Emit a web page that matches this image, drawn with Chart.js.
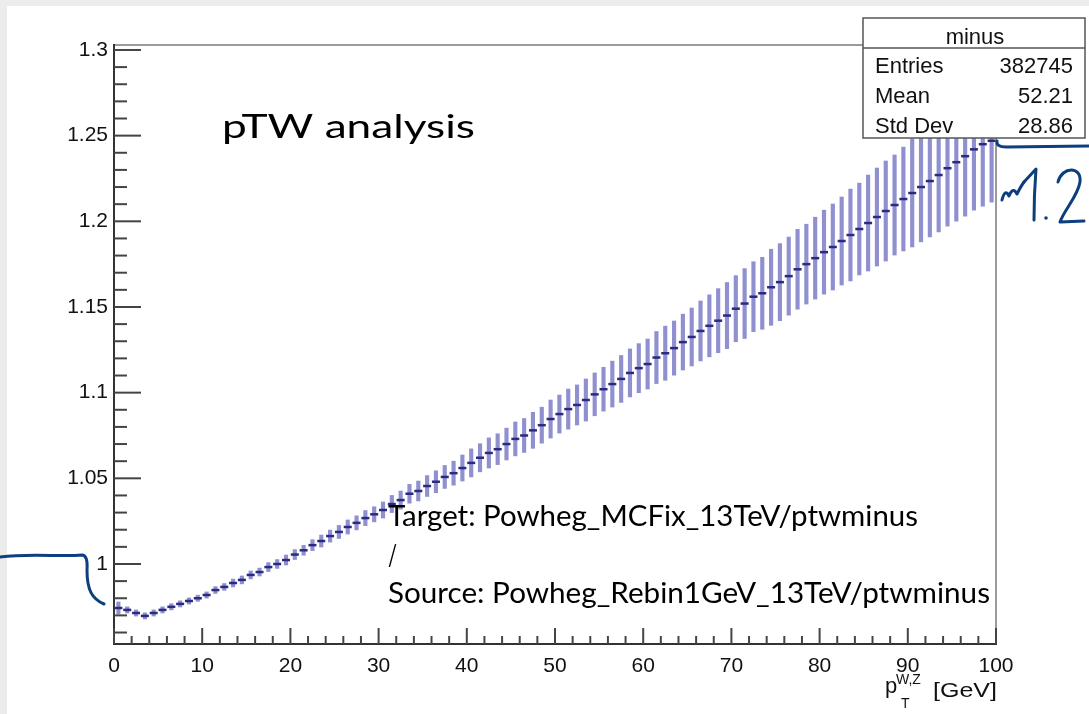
<!DOCTYPE html>
<html>
<head>
<meta charset="utf-8">
<script src="https://cdn.jsdelivr.net/npm/chart.js@4.4.0/dist/chart.umd.min.js"></script>
<style>
    html, body { margin: 0; padding: 0; background: #fff; }
    #chart-wrap { width: 1089px; height: 714px; }
</style>
</head>
<body>
<div id="chart-wrap"><canvas id="ratio-chart" width="1089" height="714"></canvas></div>
<script>
// 1 GeV bins, 0-100 GeV
const binCenters = [
    0.5, 1.5, 2.5, 3.5, 4.5, 5.5, 6.5, 7.5, 8.5, 9.5,
    10.5, 11.5, 12.5, 13.5, 14.5, 15.5, 16.5, 17.5, 18.5, 19.5,
    20.5, 21.5, 22.5, 23.5, 24.5, 25.5, 26.5, 27.5, 28.5, 29.5,
    30.5, 31.5, 32.5, 33.5, 34.5, 35.5, 36.5, 37.5, 38.5, 39.5,
    40.5, 41.5, 42.5, 43.5, 44.5, 45.5, 46.5, 47.5, 48.5, 49.5,
    50.5, 51.5, 52.5, 53.5, 54.5, 55.5, 56.5, 57.5, 58.5, 59.5,
    60.5, 61.5, 62.5, 63.5, 64.5, 65.5, 66.5, 67.5, 68.5, 69.5,
    70.5, 71.5, 72.5, 73.5, 74.5, 75.5, 76.5, 77.5, 78.5, 79.5,
    80.5, 81.5, 82.5, 83.5, 84.5, 85.5, 86.5, 87.5, 88.5, 89.5,
    90.5, 91.5, 92.5, 93.5, 94.5, 95.5, 96.5, 97.5, 98.5, 99.5
];

// Target / Source ratio per bin
const ratioValues = [
    0.9743, 0.9732, 0.9714, 0.9697, 0.9714, 0.9732, 0.9750, 0.9767, 0.9784, 0.9800,
    0.9819, 0.9848, 0.9866, 0.9889, 0.9907, 0.9936, 0.9953, 0.9982, 1.0000, 1.0023,
    1.0055, 1.0080, 1.0110, 1.0134, 1.0163, 1.0187, 1.0216, 1.0240, 1.0268, 1.0290,
    1.0315, 1.0350, 1.0373, 1.0410, 1.0426, 1.0455, 1.0480, 1.0508, 1.0530, 1.0560,
    1.0590, 1.0620, 1.0648, 1.0670, 1.0700, 1.0730, 1.0750, 1.0780, 1.0810, 1.0846,
    1.0875, 1.0904, 1.0928, 1.0957, 1.0990, 1.1020, 1.1050, 1.1080, 1.1115, 1.1143,
    1.1167, 1.1205, 1.1230, 1.1260, 1.1295, 1.1325, 1.1360, 1.1390, 1.1420, 1.1450,
    1.1490, 1.1520, 1.1560, 1.1580, 1.1615, 1.1645, 1.1680, 1.1720, 1.1750, 1.1785,
    1.1820, 1.1850, 1.1885, 1.1920, 1.1955, 1.1990, 1.2025, 1.2060, 1.2095, 1.2130,
    1.2165, 1.2200, 1.2235, 1.2270, 1.2310, 1.2345, 1.2380, 1.2420, 1.2450, 1.2470
];

// symmetric error per bin
const ratioErrors = [
    0.0035, 0.0018, 0.0018, 0.0018, 0.0018, 0.0018, 0.0018, 0.0018, 0.0018, 0.0018,
    0.0018, 0.0020, 0.0020, 0.0023, 0.0023, 0.0023, 0.0023, 0.0026, 0.0026, 0.0029,
    0.0029, 0.0029, 0.0032, 0.0035, 0.0035, 0.0038, 0.0041, 0.0041, 0.0044, 0.0044,
    0.0047, 0.0050, 0.0053, 0.0055, 0.0058, 0.0061, 0.0064, 0.0067, 0.0070, 0.0076,
    0.0082, 0.0082, 0.0088, 0.0090, 0.0093, 0.0099, 0.0099, 0.0105, 0.0105, 0.0111,
    0.0111, 0.0117, 0.0117, 0.0123, 0.0125, 0.0128, 0.0134, 0.0137, 0.0140, 0.0143,
    0.0146, 0.0152, 0.0158, 0.0158, 0.0163, 0.0169, 0.0175, 0.0181, 0.0187, 0.0193,
    0.0193, 0.0204, 0.0204, 0.0210, 0.0222, 0.0225, 0.0228, 0.0233, 0.0233, 0.0239,
    0.0245, 0.0251, 0.0257, 0.0268, 0.0268, 0.0280, 0.0286, 0.0292, 0.0292, 0.0303,
    0.0315, 0.0320, 0.0326, 0.0332, 0.0338, 0.0344, 0.0350, 0.0355, 0.0362, 0.0358
];

const xTickValues = [0, 10, 20, 30, 40, 50, 60, 70, 80, 90, 100];
const xTickLabels = ['0', '10', '20', '30', '40', '50', '60', '70', '80', '90', '100'];
const yTickValues = [1, 1.05, 1.1, 1.15, 1.2, 1.25, 1.3];
const yTickLabels = ['1', '1.05', '1.1', '1.15', '1.2', '1.25', '1.3'];

const statsTitle = 'minus';
const statsNames = ['Entries', 'Mean', 'Std Dev'];
const statsValues = ['382745', '52.21', '28.86'];

const INK = '#0d3f7f';

// text squeezed/stretched to a given width (the screenshot is a bit wide)
function drawFitText(ctx, text, x, y, font, width) {
    ctx.save();
    ctx.font = font;
    const w = ctx.measureText(text).width;
    ctx.translate(x, y);
    ctx.scale(width / w, 1);
    ctx.fillText(text, 0, 0);
    ctx.restore();
}

function line(ctx, x1, y1, x2, y2) {
    ctx.beginPath();
    ctx.moveTo(x1, y1);
    ctx.lineTo(x2, y2);
    ctx.stroke();
}

const rootStyle = {
    id: 'rootStyle',
    beforeDraw(chart) {
        const ctx = chart.ctx;
        ctx.save();
        ctx.fillStyle = '#ececec';
        ctx.fillRect(0, 0, chart.width, chart.height);
        ctx.fillStyle = '#ffffff';
        ctx.fillRect(7, 6, chart.width - 7, chart.height - 6);
        ctx.restore();
    },
    afterDraw(chart) {
        const ctx = chart.ctx;
        const a = chart.chartArea;
        const xs = chart.scales.x;
        const ys = chart.scales.y;
        ctx.save();

        // frame
        ctx.lineWidth = 1.5;
        ctx.strokeStyle = '#7a7a7a';
        line(ctx, a.left, a.top, a.right, a.top);
        line(ctx, a.right, a.top, a.right, a.bottom);
        ctx.lineWidth = 2;
        ctx.strokeStyle = '#333';
        line(ctx, a.left, a.top - 1, a.left, a.bottom + 1);
        line(ctx, a.left - 1, a.bottom, a.right + 1, a.bottom);

        // ROOT style inward ticks
        ctx.strokeStyle = '#444';
        for (let k = 0; k <= 100; k += 2) {
            const px = xs.getPixelForValue(k);
            line(ctx, px, a.bottom, px, a.bottom - (k % 10 === 0 ? 16 : 8));
        }
        for (let k = 96; k <= 130; k++) {
            const py = ys.getPixelForValue(k / 100);
            line(ctx, a.left, py, a.left + (k % 5 === 0 ? 27 : 13), py);
        }

        // stats box
        ctx.fillStyle = '#fff';
        ctx.fillRect(863, 18, 222, 120);
        ctx.strokeStyle = '#555';
        ctx.lineWidth = 1.5;
        ctx.strokeRect(863, 18, 222, 120);
        line(ctx, 863, 48, 1085, 48);
        ctx.fillStyle = '#111';
        ctx.font = '22px "Liberation Sans", Arial, sans-serif';
        ctx.textAlign = 'center';
        ctx.fillText(statsTitle, 975, 44);
        statsNames.forEach((name, i) => {
            const by = 73 + i * 30;
            ctx.textAlign = 'left';
            ctx.fillText(name, 875, by);
            ctx.textAlign = 'right';
            ctx.fillText(statsValues[i], 1073, by);
        });

        // x axis title p_T^{W,Z} [GeV]
        ctx.fillStyle = '#111';
        ctx.textAlign = 'left';
        ctx.font = '22px "Liberation Sans", Arial, sans-serif';
        ctx.fillText('p', 885, 693);
        ctx.font = '14px "Liberation Sans", Arial, sans-serif';
        ctx.fillText('W,Z', 896, 684);
        ctx.fillText('T', 901, 708);
        drawFitText(ctx, '[GeV]', 933, 697, '21px "Liberation Sans", Arial, sans-serif', 64);

        // annotation texts
        ctx.fillStyle = '#000';
        drawFitText(ctx, 'pTW analysis', 222, 138, '32px Lato, "Open Sans", sans-serif', 253);
        drawFitText(ctx, 'Target: Powheg_MCFix_13TeV/ptwminus', 388, 526, '28px Lato, "Open Sans", sans-serif', 530);
        drawFitText(ctx, '/', 388, 565, '28px Lato, "Open Sans", sans-serif', 9);
        drawFitText(ctx, 'Source: Powheg_Rebin1GeV_13TeV/ptwminus', 388, 603, '28px Lato, "Open Sans", sans-serif', 602);

        // handwritten pen marks
        ctx.strokeStyle = INK;
        ctx.lineWidth = 3;
        ctx.lineCap = 'round';
        ctx.lineJoin = 'round';
        ctx.beginPath();
        ctx.moveTo(0, 557);
        ctx.bezierCurveTo(30, 553, 60, 557, 82, 555);
        ctx.quadraticCurveTo(88, 555, 87, 570);
        ctx.bezierCurveTo(87, 590, 92, 599, 104, 604);
        ctx.stroke();

        ctx.beginPath();
        ctx.moveTo(997, 141);
        ctx.quadraticCurveTo(996, 147, 1006, 147);
        ctx.lineTo(1089, 146);
        ctx.stroke();

        // "~1.2" scribble
        ctx.beginPath();
        ctx.moveTo(1002, 200);
        ctx.quadraticCurveTo(1005, 188, 1009, 196);
        ctx.quadraticCurveTo(1013, 186, 1017, 194);
        ctx.quadraticCurveTo(1021, 186, 1024, 182);
        ctx.stroke();
        ctx.beginPath();
        ctx.moveTo(1024, 182);
        ctx.lineTo(1036, 169);
        ctx.quadraticCurveTo(1034, 195, 1034, 220);
        ctx.stroke();
        ctx.beginPath();
        ctx.arc(1046, 218, 1.8, 0, Math.PI * 2);
        ctx.fillStyle = INK;
        ctx.fill();
        ctx.beginPath();
        ctx.moveTo(1058, 182);
        ctx.bezierCurveTo(1062, 166, 1082, 166, 1080, 182);
        ctx.bezierCurveTo(1078, 196, 1064, 210, 1060, 222);
        ctx.lineTo(1084, 221);
        ctx.stroke();

        ctx.restore();
    }
};

document.addEventListener('DOMContentLoaded', () => {
    const ctx = document.getElementById('ratio-chart').getContext('2d');

    const errorBars = binCenters.map((x, i) => ({ x: x, y: [ratioValues[i] - ratioErrors[i], ratioValues[i] + ratioErrors[i]] }));
    const centres = binCenters.map((x, i) => ({ x: x, y: ratioValues[i] }));

    new Chart(ctx, {
        type: 'bar',
        data: {
            datasets: [{
                label: 'error',
                data: errorBars,
                backgroundColor: 'rgba(125, 125, 200, 0.85)',
                borderWidth: 0,
                barThickness: 3.5,
                order: 2
            }, {
                type: 'scatter',
                label: 'ratio',
                data: centres,
                pointStyle: 'line',
                pointRadius: 4,
                borderWidth: 2.5,
                borderColor: '#2a2a80',
                order: 1
            }]
        },
        options: {
            responsive: false,
            animation: false,
            events: [],
            layout: { padding: { top: 45, right: 93, left: 0, bottom: 0 } },
            scales: {
                x: {
                    type: 'linear',
                    min: 0,
                    max: 100,
                    offset: false,
                    grid: { display: false, drawTicks: false },
                    border: { display: false },
                    afterBuildTicks: (scale) => { scale.ticks = xTickValues.map(v => ({ value: v })); },
                    afterFit: (scale) => { scale.height = 70; },
                    ticks: {
                        padding: 10,
                        maxRotation: 0,
                        autoSkip: false,
                        color: '#111',
                        font: { family: '"Liberation Sans", Arial, sans-serif', size: 21 },
                        callback: (v) => xTickLabels[xTickValues.indexOf(v)]
                    }
                },
                y: {
                    min: 0.9533,
                    max: 1.3029,
                    grid: { display: false, drawTicks: false },
                    border: { display: false },
                    afterBuildTicks: (scale) => { scale.ticks = yTickValues.map(v => ({ value: v })); },
                    afterFit: (scale) => { scale.width = 114; },
                    ticks: {
                        padding: 6,
                        autoSkip: false,
                        color: '#111',
                        font: { family: '"Liberation Sans", Arial, sans-serif', size: 21 },
                        callback: (v) => yTickLabels[yTickValues.indexOf(v)]
                    }
                }
            },
            plugins: {
                legend: { display: false },
                tooltip: { enabled: false }
            }
        },
        plugins: [rootStyle]
    });
});
</script>
</body>
</html>
